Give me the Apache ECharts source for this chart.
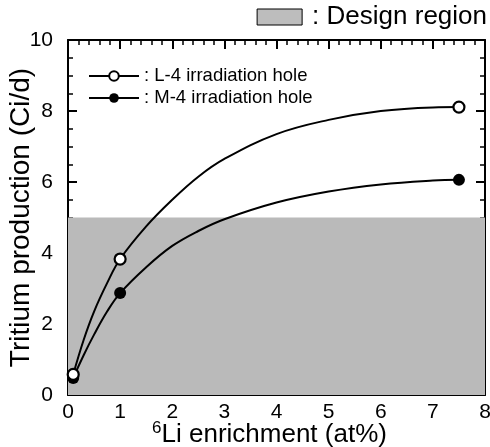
<!DOCTYPE html>
<html>
<head>
<meta charset="utf-8">
<script src="https://cdn.jsdelivr.net/npm/echarts@6/dist/echarts.min.js"></script>
<style>
  html, body { margin: 0; padding: 0; background: #fff; }
  #chart { width: 490px; height: 447px; }
</style>
</head>
<body>
<div id="chart"></div>
<script>
// measured points (6Li enrichment at%, Ci/d)
const enrichment = [0.1, 1, 7.5];
const l4Measured = [0.58, 3.83, 8.11];
const m4Measured = [0.48, 2.87, 6.06];

// fitted curves
const curveX = [0.1, 0.3, 0.5, 0.75, 1, 1.5, 2, 2.5, 3, 4, 5, 6, 7, 7.5];
const l4CurveY = [0.58, 1.55, 2.35, 3.15, 3.83, 4.75, 5.5, 6.15, 6.65, 7.35, 7.75, 8.0, 8.1, 8.11];
const m4CurveY = [0.48, 1.12, 1.7, 2.35, 2.87, 3.6, 4.2, 4.62, 4.95, 5.42, 5.73, 5.93, 6.04, 6.06];

// design region (y range) and axis ticks
const designY = [0, 5];
const xTicks = [0, 8, 1];
const yTicks = [0, 10, 2];

const font = 'Liberation Sans, Arial, Helvetica, sans-serif';
const tickFont = 'Liberation Sans Narrow, Liberation Sans, Arial, sans-serif';

// merge curve points with measured points; only measured ones get a marker
function buildSeries(cx, cy, mx, my) {
  const pts = cx.map((x, i) => ({ value: [x, cy[i]], symbol: 'none' }));
  mx.forEach((x, i) => {
    const hit = pts.find(p => p.value[0] === x);
    if (hit) { hit.value = [x, my[i]]; delete hit.symbol; }
    else pts.push({ value: [x, my[i]] });
  });
  pts.sort((a, b) => a.value[0] - b.value[0]);
  return pts;
}

const chart = echarts.init(document.getElementById('chart'));

const axisLine = { show: true, onZero: false, lineStyle: { color: '#000', width: 2 } };
const axisTick = { show: true, inside: true, length: 9, lineStyle: { color: '#000', width: 2 } };
const minorTick = n => ({ show: true, splitNumber: n, length: 5, lineStyle: { color: '#000', width: 1.5 } });

const option = {
  animation: false,
  backgroundColor: '#fff',
  textStyle: { fontFamily: font },
  grid: { left: 68, right: 5, top: 40, bottom: 52, containLabel: false, outerBoundsMode: 'none' },
  legend: [
    {
      orient: 'vertical',
      left: 88,
      top: 66,
      padding: 0,
      itemWidth: 50,
      itemHeight: 12,
      itemGap: 2,
      data: ['L-4 irradiation hole', 'M-4 irradiation hole'],
      formatter: n => ': ' + n,
      textStyle: { fontSize: 18.5, color: '#000', lineHeight: 20, fontFamily: font }
    },
    {
      right: 3,
      top: 4,
      padding: 0,
      itemWidth: 45,
      itemHeight: 16,
      icon: 'rect',
      data: ['Design region'],
      formatter: n => ': ' + n,
      itemStyle: { borderColor: '#000', borderWidth: 1 },
      textStyle: { fontSize: 26, color: '#000', fontFamily: font, padding: [0, 0, 0, 5] }
    }
  ],
  xAxis: [
    {
      type: 'value', min: xTicks[0], max: xTicks[1], interval: xTicks[2],
      axisLine: axisLine, axisTick: axisTick, minorTick: minorTick(5), splitLine: { show: false },
      axisLabel: { color: '#000', fontSize: 21, margin: 7, fontFamily: tickFont },
      name: '{sup|6}Li enrichment (at%)',
      nameLocation: 'middle',
      nameGap: 25,
      nameMoveOverlap: false,
      nameTextStyle: {
        color: '#000', fontSize: 26, fontFamily: font, verticalAlign: 'top', padding: [0, 14, 0, 0],
        rich: { sup: { fontSize: 17, verticalAlign: 'top', padding: [0, 0, 12, 0], fontFamily: font, color: '#000' } }
      }
    },
    {
      type: 'value', position: 'top', min: xTicks[0], max: xTicks[1], interval: xTicks[2],
      axisLine: axisLine, axisTick: axisTick, minorTick: minorTick(5), splitLine: { show: false },
      axisLabel: { show: false }
    }
  ],
  yAxis: [
    {
      type: 'value', min: yTicks[0], max: yTicks[1], interval: yTicks[2],
      axisLine: axisLine, axisTick: axisTick, minorTick: minorTick(4), splitLine: { show: false },
      axisLabel: { color: '#000', fontSize: 21, margin: 15, fontFamily: tickFont },
      name: 'Tritium production (Ci/d)',
      nameLocation: 'middle',
      nameGap: 33,
      nameMoveOverlap: false,
      nameTextStyle: { color: '#000', fontSize: 28, fontFamily: font }
    },
    {
      type: 'value', position: 'right', min: yTicks[0], max: yTicks[1], interval: yTicks[2],
      axisLine: axisLine, axisTick: axisTick, minorTick: minorTick(4), splitLine: { show: false },
      axisLabel: { show: false }
    }
  ],
  series: [
    {
      name: 'Design region',
      type: 'line',
      data: [],
      color: '#bdbdbd',
      markArea: {
        silent: true,
        itemStyle: { color: '#bababa' },
        data: [[{ xAxis: xTicks[0], yAxis: designY[0] }, { xAxis: xTicks[1], yAxis: designY[1] }]]
      }
    },
    {
      name: 'L-4 irradiation hole',
      type: 'line',
      smooth: 0.4,
      showAllSymbol: true,
      symbol: 'circle',
      symbolSize: 11,
      color: '#000',
      itemStyle: { color: '#fff', borderColor: '#000', borderWidth: 2.2 },
      lineStyle: { color: '#000', width: 2 },
      data: buildSeries(curveX, l4CurveY, enrichment, l4Measured),
      z: 3
    },
    {
      name: 'M-4 irradiation hole',
      type: 'line',
      smooth: 0.4,
      showAllSymbol: true,
      symbol: 'circle',
      symbolSize: 12,
      color: '#000',
      itemStyle: { color: '#000' },
      lineStyle: { color: '#000', width: 2 },
      data: buildSeries(curveX, m4CurveY, enrichment, m4Measured),
      z: 2
    }
  ]
};

chart.setOption(option);
</script>
</body>
</html>
